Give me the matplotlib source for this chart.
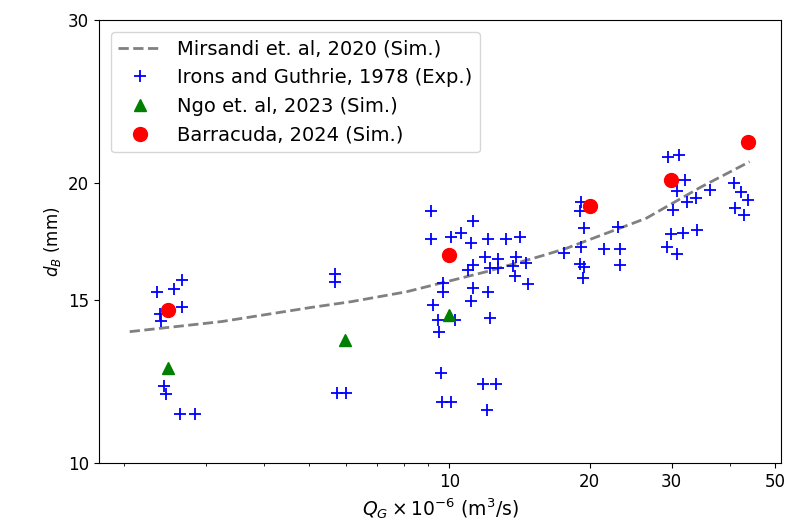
import matplotlib
matplotlib.use("Agg")
import matplotlib.pyplot as plt
from matplotlib.ticker import ScalarFormatter, NullFormatter, NullLocator

# Mirsandi et. al, 2020 (Sim.) - кривая
mirsandi_q = [2.06, 3.24, 5.06, 6.16, 8.09, 12.0, 15.76, 17.83, 26.47, 34.7, 44.1]
mirsandi_d = [13.85, 14.20, 14.71, 14.92, 15.29, 16.07, 16.71, 17.03, 18.35, 19.83, 21.11]

# Irons and Guthrie, 1978 (Exp.)
irons_q = [2.36, 2.56, 2.67, 2.67, 2.39, 2.41, 2.44, 2.47, 2.64, 2.85,
           5.67, 5.67, 5.75, 6.01,
           9.12, 11.24, 9.12, 10.07, 10.61, 11.15, 12.11, 13.25, 14.15, 11.90,
           12.72, 13.92, 14.63, 17.65, 11.24, 10.97, 12.20, 12.72, 13.70, 13.81,
           14.75, 9.69, 9.69, 11.24, 12.11, 9.22, 11.15, 9.46, 10.26, 12.20,
           9.48, 9.58, 11.81, 12.59, 9.65, 10.10, 12.06,
           19.20, 19.04, 19.42, 23.01, 19.13, 21.45, 23.19, 19.04, 19.42, 23.19, 19.36,
           29.47, 31.1, 32.1, 30.77, 36.2, 33.8, 32.42, 30.2, 40.8, 42.3, 43.75,
           41.1, 42.95, 29.95, 31.73, 34.05, 29.3, 30.77]
irons_d = [15.29, 15.38, 15.74, 14.73, 14.47, 14.22, 12.10, 11.86, 11.28, 11.28,
           15.98, 15.65, 11.90, 11.90,
           18.70, 18.24, 17.42, 17.52, 17.68, 17.26, 17.42, 17.42, 17.52, 16.68,
           16.60, 16.68, 16.44, 16.84, 16.36, 16.14, 16.20, 16.20, 16.30, 15.90,
           15.58, 15.61, 15.28, 15.45, 15.28, 14.81, 14.96, 14.24, 14.24, 14.32,
           13.85, 12.49, 12.17, 12.17, 11.63, 11.63, 11.40,
           19.12, 18.68, 17.90, 17.97, 17.10, 16.99, 16.99, 16.40, 16.27, 16.34, 15.84,
           21.36, 21.47, 20.17, 19.65, 19.68, 19.28, 19.12, 18.73, 20.02, 19.60, 19.20,
           18.81, 18.50, 17.65, 17.68, 17.82, 17.10, 16.80]

# Ngo et. al, 2023 (Sim.)
ngo_q = [2.49, 5.98, 10.0]
ngo_d = [12.66, 13.57, 14.44]

# Barracuda, 2024 (Sim.)
barracuda_q = [2.49, 10.0, 20.0, 29.85, 43.75]
barracuda_d = [14.61, 16.75, 18.92, 20.17, 22.18]

fig = plt.figure(figsize=(7.85, 5.32), dpi=100)
ax = fig.add_axes([99 / 785, 69 / 532, 682 / 785, 443 / 532])

ax.plot(mirsandi_q, mirsandi_d, "--", color="gray", lw=2, label="Mirsandi et. al, 2020 (Sim.)")
ax.plot(irons_q, irons_d, "+", color="blue", ms=9, mew=1.3, label="Irons and Guthrie, 1978 (Exp.)")
ax.plot(ngo_q, ngo_d, "^", color="green", ms=9, label="Ngo et. al, 2023 (Sim.)")
ax.plot(barracuda_q, barracuda_d, "o", color="red", ms=10, label="Barracuda, 2024 (Sim.)")

ax.set_xscale("log")
ax.set_yscale("log")
ax.set_xlim(1.77, 51.5)
ax.set_ylim(10, 30)

ax.set_xticks([10, 20, 30, 50])
ax.xaxis.set_major_formatter(ScalarFormatter())
ax.xaxis.set_minor_formatter(NullFormatter())
ax.set_yticks([10, 15, 20, 30])
ax.yaxis.set_major_formatter(ScalarFormatter())
ax.yaxis.set_minor_locator(NullLocator())
ax.tick_params(labelsize=12)

ax.set_xlabel(r"$Q_G \times 10^{-6}$ (m$^3$/s)", fontsize=13.5)
ax.set_ylabel(r"$d_B$ (mm)", fontsize=12)
ax.legend(loc="upper left", fontsize=14, handlelength=2.2, borderaxespad=0.6)

fig.savefig("out.png", dpi=100)
